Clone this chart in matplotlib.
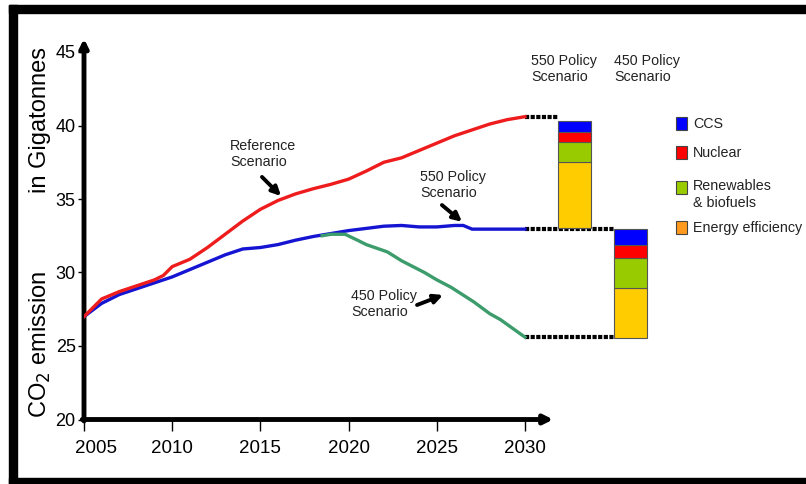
import matplotlib
matplotlib.use('Agg')
import matplotlib.pyplot as plt
from matplotlib.patches import Rectangle
from matplotlib.transforms import ScaledTranslation

# Datos (Gt de CO2)
anios_ref = [2005, 2006, 2007, 2008, 2009, 2009.5, 2010, 2011, 2012, 2013, 2014, 2015, 2016,
             2017, 2018, 2019, 2020, 2021, 2022, 2023, 2024, 2025, 2026, 2027, 2028, 2029, 2030]
ref = [27.0, 28.2, 28.7, 29.1, 29.5, 29.8, 30.4, 30.9, 31.7, 32.6, 33.5, 34.3, 34.9,
       35.35, 35.7, 36.0, 36.35, 36.9, 37.5, 37.8, 38.3, 38.8, 39.3, 39.7, 40.1, 40.4, 40.6]

anios_550 = [2005, 2006, 2007, 2008, 2009, 2010, 2011, 2012, 2013, 2014, 2015, 2016, 2017,
             2018, 2019, 2020, 2021, 2022, 2023, 2024, 2025, 2026, 2026.5, 2027, 2028, 2029, 2030]
esc_550 = [27.0, 27.9, 28.5, 28.9, 29.3, 29.7, 30.2, 30.7, 31.2, 31.6, 31.7, 31.9, 32.2,
           32.45, 32.65, 32.85, 33.0, 33.15, 33.2, 33.1, 33.1, 33.2, 33.2, 32.95, 32.95, 32.95, 32.95]

anios_450 = [2018.5, 2019, 2019.8, 2020.5, 2021, 2022.2, 2023, 2024.3, 2025, 2025.8, 2027.1,
             2028, 2028.6, 2029.3, 2030]
esc_450 = [32.5, 32.6, 32.6, 32.2, 31.9, 31.4, 30.8, 30.0, 29.5, 29.0, 28.0,
           27.2, 26.8, 26.2, 25.6]

# Barras de reduccion 2030: eficiencia, renovables, nuclear, CCS
componentes = ['Energy efficiency', 'Renewables\n& biofuels', 'Nuclear', 'CCS']
base_550 = 33.0
barra_550 = [4.5, 1.4, 0.65, 0.75]
base_450 = 25.55
barra_450 = [3.4, 2.05, 0.9, 1.05]

ticks_x = [2005, 2010, 2015, 2020, 2025, 2030]
ticks_y = [20, 25, 30, 35, 40, 45]

col_barras = ['#ffcc00', '#99cc00', '#ff0000', '#0000ff']
col_leyenda = ['#ff9a1e', '#99cc00', '#ff0000', '#0000ff']

plt.rcParams['font.family'] = ['Liberation Sans', 'DejaVu Sans']

fig = plt.figure(figsize=(8.06, 4.84), dpi=100)
ax = fig.add_axes([84 / 806, 64.5 / 484, 705.6 / 806, 26 * 14.7 / 484])
ax.set_xlim(2005, 2045)
ax.set_ylim(20, 46)
for s in ax.spines.values():
    s.set_visible(False)

# Ejes con flecha
ax.annotate('', xy=(2031.6, 20), xytext=(2004.9, 20),
            arrowprops=dict(arrowstyle='-|>', lw=3.5, color='black', mutation_scale=13,
                            shrinkA=0, shrinkB=0))
ax.annotate('', xy=(2005, 45.9), xytext=(2005, 19.9),
            arrowprops=dict(arrowstyle='-|>', lw=3.5, color='black', mutation_scale=12,
                            shrinkA=0, shrinkB=0))

ax.set_xticks(ticks_x)
ax.set_xticklabels([str(t) for t in ticks_x], fontsize=13.5)
ax.set_yticks(ticks_y)
ax.set_yticklabels([str(t) for t in ticks_y], fontsize=13)
ax.tick_params(axis='x', direction='out', length=8, width=1, pad=7)
ax.tick_params(axis='y', direction='out', length=4, width=1, pad=2)
# el 2005 esta algo corrido a la derecha en el original
lbl = ax.get_xticklabels()[0]
lbl.set_transform(lbl.get_transform() + ScaledTranslation(12 / 100, 0, fig.dpi_scale_trans))

# Lineas de escenarios
ax.plot(anios_550, esc_550, color='#1414d2', lw=2.4, zorder=3)
ax.plot(anios_450, esc_450, color='#3c9c6c', lw=2.4, zorder=3)
ax.plot(anios_ref, ref, color='#ee1c1c', lw=2.4, zorder=4)

# Barras apiladas
x550, x450, ancho = 2032.8, 2036.0, 1.87
abajo = base_550
for v, c in zip(barra_550, col_barras):
    ax.bar(x550, v, bottom=abajo, width=ancho, color=c, edgecolor='#555555', lw=0.8, zorder=3)
    abajo += v
abajo = base_450
for v, c in zip(barra_450, col_barras):
    ax.bar(x450, v, bottom=abajo, width=ancho, color=c, edgecolor='#555555', lw=0.8, zorder=3)
    abajo += v

# Lineas punteadas
punteado = dict(color='black', lw=3, linestyle=(0, (1, 0.35)), zorder=2)
ax.plot([ticks_x[-1], x550 - ancho / 2], [ref[-1] - 0.05, ref[-1] - 0.05], **punteado)
ax.plot([ticks_x[-1], x450 - ancho / 2], [esc_550[-1], esc_550[-1]], **punteado)
ax.plot([ticks_x[-1], x450 - ancho / 2], [esc_450[-1], esc_450[-1]], **punteado)

# Etiquetas y flechas
fs = 10.3
flecha = dict(arrowstyle='-|>', lw=2.8, color='black', mutation_scale=13, shrinkA=0, shrinkB=0)
ax.text(2013.28, 39.05, 'Reference\nScenario', fontsize=fs, va='top', ha='left', linespacing=1.15,
        color='#222222')
ax.annotate('', xy=(2016.17, 35.2), xytext=(2015.09, 36.5), arrowprops=flecha)
ax.text(2024.05, 36.95, '550 Policy\nScenario', fontsize=fs, va='top', ha='left', linespacing=1.15,
        color='#222222')
ax.annotate('', xy=(2026.43, 33.45), xytext=(2025.29, 34.59), arrowprops=flecha)
ax.text(2020.14, 28.85, '450 Policy\nScenario', fontsize=fs, va='top', ha='left', linespacing=1.15,
        color='#222222')
ax.annotate('', xy=(2025.35, 28.47), xytext=(2023.88, 27.79), arrowprops=flecha)

ax.text(2030.34, 44.85, '550 Policy\nScenario', fontsize=fs, va='top', ha='left', linespacing=1.15,
        color='#222222')
ax.text(2035.05, 44.85, '450 Policy\nScenario', fontsize=fs, va='top', ha='left', linespacing=1.15,
        color='#222222')

# Leyenda manual
pos_y = [228, 188, 153, 124]
for lab, c, py in zip(componentes, col_leyenda, pos_y):
    fig.add_artist(Rectangle((676 / 806, (484 - py - 6) / 484), 11 / 806, 13 / 484,
                             facecolor=c, edgecolor='#444444', lw=0.8))
    if '\n' in lab:
        fig.text(693 / 806, (484 - py + 9) / 484, lab, fontsize=fs, va='top', ha='left',
                 linespacing=1.3, color='#222222')
    else:
        fig.text(693 / 806, (484 - py) / 484, lab, fontsize=fs, va='center', ha='left',
                 color='#222222')

# Titulo eje y
fig.text(40 / 806, (484 - 120) / 484, 'in Gigatonnes', fontsize=17,
         rotation=90, va='center', ha='center')
fig.text(40 / 806, (484 - 344) / 484, 'CO$_2$ emission', fontsize=17,
         rotation=90, va='center', ha='center')

# Marco negro
fig.add_artist(Rectangle((9 / 806, (484 - 13) / 484), 797 / 806, 8 / 484, color='black'))
fig.add_artist(Rectangle((9 / 806, 0), 8 / 806, 479 / 484, color='black'))
fig.add_artist(Rectangle((9 / 806, 0), 797 / 806, 6 / 484, color='black'))

fig.savefig('out.png', dpi=100)
